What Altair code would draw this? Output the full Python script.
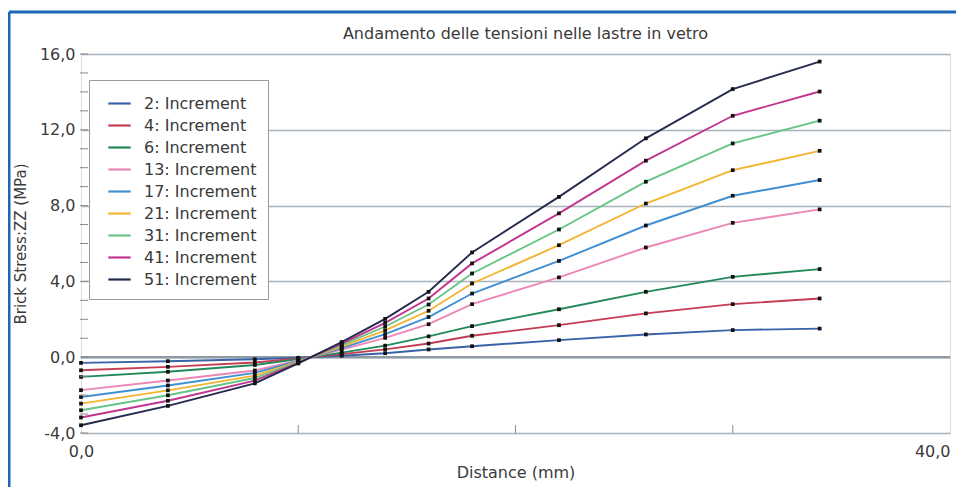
import altair as alt
import pandas as pd

# ---------------- data ----------------
distance_mm = [0, 4, 8, 10, 12, 14, 16, 18, 22, 26, 30, 34]

series_names = [
    "2: Increment", "4: Increment", "6: Increment", "13: Increment",
    "17: Increment", "21: Increment", "31: Increment", "41: Increment",
    "51: Increment",
]

inc_2 = [-0.30, -0.21, -0.11, -0.03, 0.08, 0.21, 0.41, 0.58, 0.90, 1.20, 1.43, 1.51]
inc_4 = [-0.69, -0.51, -0.28, -0.07, 0.16, 0.41, 0.72, 1.13, 1.69, 2.31, 2.80, 3.10]
inc_6 = [-1.04, -0.77, -0.41, -0.10, 0.24, 0.61, 1.10, 1.64, 2.53, 3.45, 4.24, 4.65]
inc_13 = [-1.74, -1.23, -0.70, -0.17, 0.40, 1.02, 1.74, 2.80, 4.21, 5.79, 7.09, 7.80]
inc_17 = [-2.10, -1.49, -0.83, -0.20, 0.48, 1.22, 2.12, 3.36, 5.08, 6.95, 8.52, 9.35]
inc_21 = [-2.45, -1.75, -0.97, -0.23, 0.56, 1.42, 2.45, 3.89, 5.91, 8.11, 9.87, 10.89]
inc_31 = [-2.80, -2.01, -1.10, -0.26, 0.64, 1.62, 2.78, 4.42, 6.74, 9.26, 11.28, 12.48]
inc_41 = [-3.18, -2.30, -1.24, -0.30, 0.72, 1.81, 3.10, 4.95, 7.59, 10.37, 12.74, 14.02]
inc_51 = [-3.59, -2.57, -1.38, -0.33, 0.80, 2.02, 3.45, 5.53, 8.46, 11.55, 14.15, 15.60]

series_values = [inc_2, inc_4, inc_6, inc_13, inc_17, inc_21, inc_31, inc_41, inc_51]

series_colors = [
    "#3a62a8", "#c43d52", "#23885a", "#ec86b6", "#3f8fd2",
    "#f2b431", "#67c486", "#c2358f", "#252a4f",
]

y_label_values = [-4, 0, 4, 8, 12, 16]
y_minor_ticks = [-4, -3, -2, -1, 0, 1, 2, 3, 4, 5, 6, 7, 8, 9, 10, 11, 12, 13, 14, 15, 16]
x_label_values = [0, 40]
x_inner_ticks = [10, 20, 30]
zero_line = [0]

# ---------------- build table ----------------
rows = []
for name, vals in zip(series_names, series_values):
    for x, v in zip(distance_mm, vals):
        rows.append({"series": name, "distance": x, "stress": v})
df = pd.DataFrame(rows)

W, H = 869, 379
FONT = "DejaVu Sans"
TXT = "#3a3a3a"
comma_expr = "replace(replace(format(datum.value, '.1f'), '.', ','), '\u2212', '-')"

xscale = alt.Scale(domain=[0, 40], nice=False, zero=False)
yscale = alt.Scale(domain=[-4, 16], nice=False, zero=False)

x_enc = alt.X(
    "distance:Q", scale=xscale, title="Distance (mm)",
    axis=alt.Axis(values=x_label_values, labelExpr=comma_expr, tickSize=0,
                  domain=False, grid=False, labelPadding=10, titlePadding=5,
                  labelFlush=False, labelOverlap=False,
                  labelAlign={"condition": {"test": "datum.value >= 40", "value": "right"},
                              "value": "center"},
                  labelFontSize=16, titleFontSize=16, labelColor=TXT,
                  titleColor=TXT, titleFontWeight="normal", labelFont=FONT,
                  titleFont=FONT),
)
y_enc = alt.Y(
    "stress:Q", scale=yscale, title="Brick Stress:ZZ (MPa)",
    axis=alt.Axis(values=y_label_values, labelExpr=comma_expr, tickSize=0,
                  domain=False, grid=True, gridColor="#a8b3bd", gridWidth=1.5,
                  labelPadding=6, labelFontSize=16, titleFontSize=15,
                  labelFlush=False, labelOverlap=False,
                  labelColor=TXT, titleColor=TXT, titleFontWeight="normal",
                  labelFont=FONT, titleFont=FONT, titleX=-53, titleY=H / 2),
)

color_enc = alt.Color(
    "series:N",
    scale=alt.Scale(domain=series_names, range=series_colors),
    sort=series_names,
    legend=alt.Legend(
        title=None, orient="none", legendX=8, legendY=26,
        fillColor="white", strokeColor="#9a9a9a", padding=11,
        symbolType="stroke", symbolSize=500, symbolStrokeWidth=2.2,
        symbolOffset=7, labelOffset=12, rowPadding=1,
        labelFontSize=16, labelFont=FONT, labelColor=TXT, labelLimit=300,
    ),
)

base = alt.Chart(df)

lines = base.mark_line(strokeWidth=1.9).encode(
    x=x_enc, y=y_enc, color=color_enc, order="distance:Q"
)
points = base.mark_point(shape="square", filled=True, color="#111111",
                         size=14, opacity=1).encode(
    x="distance:Q", y="stress:Q"
)

zero_df = pd.DataFrame({"v": zero_line})
zero_rule = alt.Chart(zero_df).mark_rule(color="#8e9aa6", strokeWidth=2.6).encode(
    y=alt.Y("v:Q", scale=yscale)
)

yt_df = pd.DataFrame({"t": y_minor_ticks})
y_ticks = alt.Chart(yt_df).mark_rule(color="#8a8a8a", strokeWidth=1).encode(
    y=alt.Y("t:Q", scale=yscale), x=alt.value(-1), x2=alt.value(7)
)
xt_df = pd.DataFrame({"t": x_inner_ticks})
x_ticks = alt.Chart(xt_df).mark_rule(color="#8a8a8a", strokeWidth=1).encode(
    x=alt.X("t:Q", scale=xscale), y=alt.value(H - 8), y2=alt.value(H)
)

frame_df = pd.DataFrame({"k": [0]})
frame_top = alt.Chart(frame_df).mark_rule(color="#1c66b8", strokeWidth=3).encode(
    x=alt.value(-72), x2=alt.value(W + 20), y=alt.value(-42)
)
frame_left = alt.Chart(frame_df).mark_rule(color="#1c66b8", strokeWidth=3).encode(
    x=alt.value(-72), y=alt.value(-42), y2=alt.value(H + 80)
)

chart = alt.layer(
    frame_top, frame_left, zero_rule, lines, points, y_ticks, x_ticks
).properties(
    width=W, height=H,
    padding={"left": 73, "top": 46, "right": 6, "bottom": 54},
    autosize=alt.AutoSizeParams(type="none"),
    title=alt.TitleParams(
        "Andamento delle tensioni nelle lastre in vetro",
        fontSize=16, font=FONT, color=TXT, fontWeight="normal",
        anchor="middle", dx=10, offset=-31, frame="group",
    ),
).configure_view(
    stroke="#9c9c9c", strokeWidth=2
).configure(background="white")

chart.save("out.html", embed_options={"renderer": "svg", "actions": False})
